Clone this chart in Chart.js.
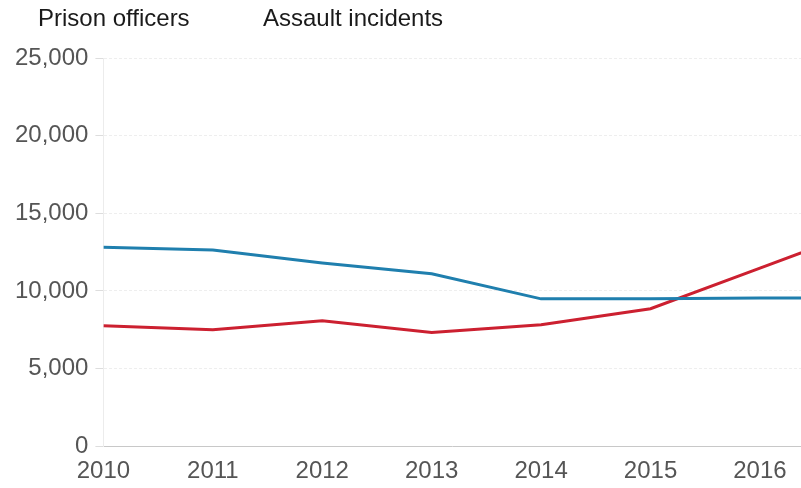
<!DOCTYPE html>
<html>
<head>
<meta charset="utf-8">
<script src="https://cdn.jsdelivr.net/npm/chart.js@4"></script>
<style>
  body { margin: 0; background: #fff; overflow: hidden; }
  #wrap { position: relative; width: 801px; height: 497px; }
  .key { position: absolute; top: 4px; font: 24px "Liberation Sans", Arial, sans-serif; color: #1a1a1a; line-height: 28px; }
</style>
</head>
<body>
<div id="wrap">
  <div class="key" style="left:38px">Prison officers</div>
  <div class="key" style="left:263px">Assault incidents</div>
  <canvas id="chart"></canvas>
</div>
<script>
// years on the x axis (2017 runs off the right edge)
const years = [2010, 2011, 2012, 2013, 2014, 2015, 2016, 2017];
const officers = [12820, 12630, 11800, 11100, 9490, 9490, 9540, 9560];
const assaults = [7760, 7500, 8080, 7330, 7820, 8850, 11470, 14100];
const yTicks = [0, 5000, 10000, 15000, 20000, 25000];

const pts = (vals) => years.map((y, i) => ({ x: y, y: vals[i] }));

new Chart(document.getElementById('chart'), {
  type: 'line',
  data: {
    datasets: [
      { label: 'Prison officers', data: pts(officers), borderColor: '#1f7fae', borderWidth: 3, pointRadius: 0, tension: 0 },
      { label: 'Assault incidents', data: pts(assaults), borderColor: '#cc2030', borderWidth: 3, pointRadius: 0, tension: 0 }
    ]
  },
  options: {
    responsive: true,
    maintainAspectRatio: false,
    animation: false,
    layout: { padding: { top: 58, left: 8, right: 0, bottom: 0 } },
    plugins: { legend: { display: false }, tooltip: { enabled: false } },
    scales: {
      x: {
        type: 'linear',
        min: 2010,
        max: 2016.375,
        afterBuildTicks: (s) => { s.ticks = years.slice(0, 7).map(v => ({ value: v })); },
        grid: { display: false, drawTicks: false },
        border: { display: true, color: '#c8c8c8', width: 1 },
        ticks: {
          color: '#555',
          padding: 11,
          font: { family: '"Liberation Sans", Arial, sans-serif', size: 24 },
          callback: (v) => String(v)
        }
      },
      y: {
        min: 0,
        max: 25000,
        afterBuildTicks: (s) => { s.ticks = yTicks.map(v => ({ value: v })); },
        grid: {
          color: (c) => c.tick && c.tick.value === 0 ? '#c8c8c8' : '#eeeeee',
          tickLength: 8,
          tickColor: '#dddddd'
        },
        border: { display: true, color: '#ececec', dash: [3, 2] },
        ticks: {
          color: '#555',
          padding: 7,
          font: { family: '"Liberation Sans", Arial, sans-serif', size: 24 },
          callback: (v) => v.toLocaleString('en-US')
        }
      }
    }
  }
});
</script>
</body>
</html>
